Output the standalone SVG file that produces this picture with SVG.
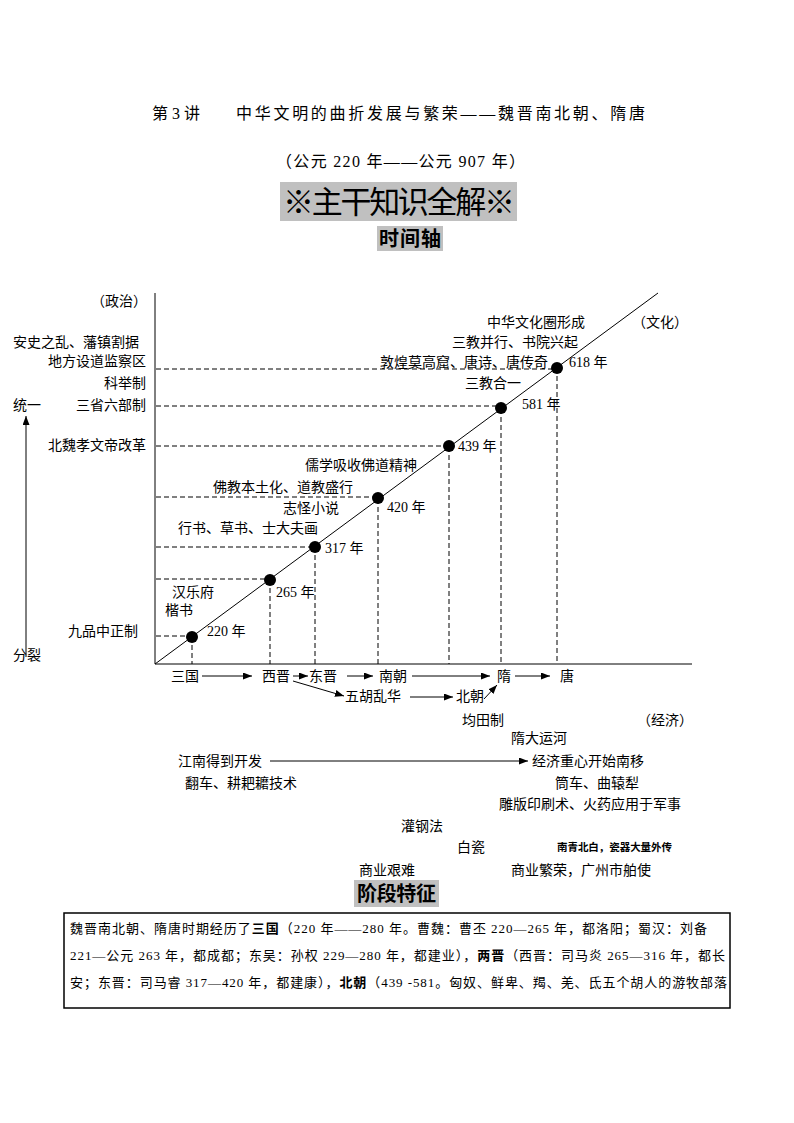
<svg xmlns="http://www.w3.org/2000/svg" width="794" height="1123" viewBox="0 0 794 1123">
<defs>
<marker id="ah" viewBox="0 0 9 7" refX="9" refY="3.5" markerWidth="9" markerHeight="7" markerUnits="userSpaceOnUse" orient="auto">
<path d="M0,0 L9,3.5 L0,7 z" fill="#000"/>
</marker>
</defs>
<style>
text{font-family:'Liberation Serif','Noto Sans CJK SC',serif;fill:#000;}
.t{font-size:14px;}
.e{text-anchor:end;}
.s{font-size:10.5px;font-weight:bold;}
.b{font-size:13px;}
.bd{font-weight:bold;}
.ln{stroke:#000;stroke-width:1;fill:none;}
.ds{stroke:#000;stroke-width:1;fill:none;stroke-dasharray:5,3;}
.ar{stroke:#000;stroke-width:1;fill:none;marker-end:url(#ah);}
.dot{fill:#000;}
.hl{fill:#c0c0c0;}
</style>
<rect width="794" height="1123" fill="#fff"/>

<g id="header">
<text x="152" y="119" font-size="16">第 3 讲</text>
<text x="236" y="119" font-size="16" textLength="409" lengthAdjust="spacing">中华文明的曲折发展与繁荣——魏晋南北朝、隋唐</text>
<text x="276" y="167" font-size="16" textLength="249" lengthAdjust="spacing">（公元 220 年——公元 907 年）</text>
<rect class="hl" x="280" y="182" width="237" height="39"/>
<text x="283" y="213" font-size="31" textLength="232" lengthAdjust="spacing">※主干知识全解※</text>
<rect class="hl" x="377" y="226" width="66" height="25"/>
<text x="379" y="246" font-size="20" class="bd" textLength="62" lengthAdjust="spacing">时间轴</text>
</g>

<g id="connectors">
<line class="ln" x1="155" y1="293" x2="155" y2="664"/>
<line class="ln" x1="155" y1="664" x2="692" y2="664"/>
<line class="ln" x1="155" y1="664" x2="658" y2="293"/>
<line class="ds" x1="156" y1="636" x2="192" y2="636"/>
<line class="ds" x1="156" y1="579" x2="270" y2="579"/>
<line class="ds" x1="156" y1="547" x2="315" y2="547"/>
<line class="ds" x1="156" y1="497" x2="378" y2="497"/>
<line class="ds" x1="156" y1="446" x2="449" y2="446"/>
<line class="ds" x1="156" y1="406" x2="501" y2="406"/>
<line class="ds" x1="156" y1="369" x2="557" y2="369"/>
<line class="ds" x1="192" y1="637" x2="192" y2="664"/>
<line class="ds" x1="270" y1="580" x2="270" y2="664"/>
<line class="ds" x1="315" y1="547" x2="315" y2="664"/>
<line class="ds" x1="378" y1="499" x2="378" y2="664"/>
<line class="ds" x1="449" y1="447" x2="449" y2="664"/>
<line class="ds" x1="501" y1="409" x2="501" y2="664"/>
<line class="ds" x1="557" y1="368" x2="557" y2="664"/>
<line class="ar" x1="26" y1="657" x2="26" y2="416"/>
<line class="ar" x1="202" y1="676" x2="252" y2="676"/>
<line class="ar" x1="293" y1="676" x2="308" y2="676"/>
<line class="ar" x1="347" y1="676" x2="373" y2="676"/>
<line class="ar" x1="412" y1="676" x2="490" y2="676"/>
<line class="ar" x1="515" y1="676" x2="550" y2="676"/>
<line class="ar" x1="293" y1="681" x2="344" y2="696"/>
<line class="ar" x1="410" y1="697" x2="453" y2="697"/>
<line class="ar" x1="484" y1="699" x2="497" y2="685"/>
<line class="ar" x1="270" y1="761" x2="528" y2="761"/>
<line x1="354" y1="887" x2="438" y2="887" stroke="#d0d0d0" stroke-width="1"/>
</g>

<g id="points">
<circle class="dot" cx="192" cy="637" r="6"/>
<circle class="dot" cx="270" cy="580" r="6"/>
<circle class="dot" cx="315" cy="547" r="6"/>
<circle class="dot" cx="378" cy="498" r="6"/>
<circle class="dot" cx="449" cy="446" r="6"/>
<circle class="dot" cx="501" cy="408" r="6"/>
<circle class="dot" cx="557" cy="368" r="6"/>
<text class="t" x="207" y="636">220 年</text>
<text class="t" x="276" y="597">265 年</text>
<text class="t" x="325" y="553">317 年</text>
<text class="t" x="387" y="512">420 年</text>
<text class="t" x="458" y="451">439 年</text>
<text class="t" x="522" y="409">581 年</text>
<text class="t" x="569" y="367">618 年</text>
</g>

<g id="politics">
<text class="t e" x="147" y="306">（政治）</text>
<text class="t" x="13" y="347">安史之乱、藩镇割据</text>
<text class="t e" x="146" y="366">地方设道监察区</text>
<text class="t e" x="146" y="388">科举制</text>
<text class="t" x="13" y="410">统一</text>
<text class="t e" x="146" y="410">三省六部制</text>
<text class="t e" x="146" y="450">北魏孝文帝改革</text>
<text class="t e" x="138" y="636">九品中正制</text>
<text class="t" x="13" y="660">分裂</text>
</g>

<g id="culture">
<text class="t" x="172" y="597">汉乐府</text>
<text class="t" x="165" y="615">楷书</text>
<text class="t" x="178" y="533">行书、草书、士大夫画</text>
<text class="t" x="283" y="513">志怪小说</text>
<text class="t" x="213" y="492">佛教本土化、道教盛行</text>
<text class="t" x="305" y="470">儒学吸收佛道精神</text>
<text class="t" x="465" y="388">三教合一</text>
<text class="t" x="380" y="367">敦煌莫高窟、唐诗、唐传奇</text>
<text class="t" x="452" y="347">三教并行、书院兴起</text>
<text class="t" x="487" y="327">中华文化圈形成</text>
<text class="t" x="632" y="327">（文化）</text>
</g>

<g id="dynasties">
<text class="t" x="171" y="681">三国</text>
<text class="t" x="262" y="681">西晋</text>
<text class="t" x="309" y="681">东晋</text>
<text class="t" x="379" y="681">南朝</text>
<text class="t" x="497" y="681">隋</text>
<text class="t" x="560" y="681">唐</text>
<text class="t" x="345" y="701">五胡乱华</text>
<text class="t" x="456" y="701">北朝</text>
</g>

<g id="economy">
<text class="t" x="462" y="725">均田制</text>
<text class="t" x="637" y="725">（经济）</text>
<text class="t" x="511" y="743">隋大运河</text>
<text class="t" x="178" y="766">江南得到开发</text>
<text class="t" x="532" y="766">经济重心开始南移</text>
<text class="t" x="185" y="788">翻车、耕耙耱技术</text>
<text class="t" x="555" y="788">筒车、曲辕犁</text>
<text class="t" x="499" y="809">雕版印刷术、火药应用于军事</text>
<text class="t" x="401" y="831">灌钢法</text>
<text class="t" x="457" y="852">白瓷</text>
<text class="s" x="557" y="851" textLength="115" lengthAdjust="spacing">南青北白，瓷器大量外传</text>
<text class="t" x="359" y="875">商业艰难</text>
<text class="t" x="511" y="875">商业繁荣，广州市舶使</text>
</g>

<g id="stage">
<rect class="hl" x="354" y="880" width="85" height="27"/>
<text x="357" y="901" font-size="20" class="bd" textLength="79" lengthAdjust="spacing">阶段特征</text>
<rect x="64" y="913" width="666" height="95" fill="none" stroke="#000" stroke-width="1.5"/>
<text class="b" x="70" y="933" textLength="637" lengthAdjust="spacing">魏晋南北朝、隋唐时期经历了<tspan class="bd">三国</tspan>（220 年——280 年。曹魏：曹丕 220—265 年，都洛阳；蜀汉：刘备</text>
<text class="b" x="70" y="960" textLength="655" lengthAdjust="spacing">221—公元 263 年，都成都；东吴：孙权 229—280 年，都建业），<tspan class="bd">两晋</tspan>（西晋：司马炎 265—316 年，都长</text>
<text class="b" x="70" y="987" textLength="657" lengthAdjust="spacing">安；东晋：司马睿 317—420 年，都建康），<tspan class="bd">北朝</tspan>（439 -581。匈奴、鲜卑、羯、羌、氐五个胡人的游牧部落</text>
</g>
</svg>
